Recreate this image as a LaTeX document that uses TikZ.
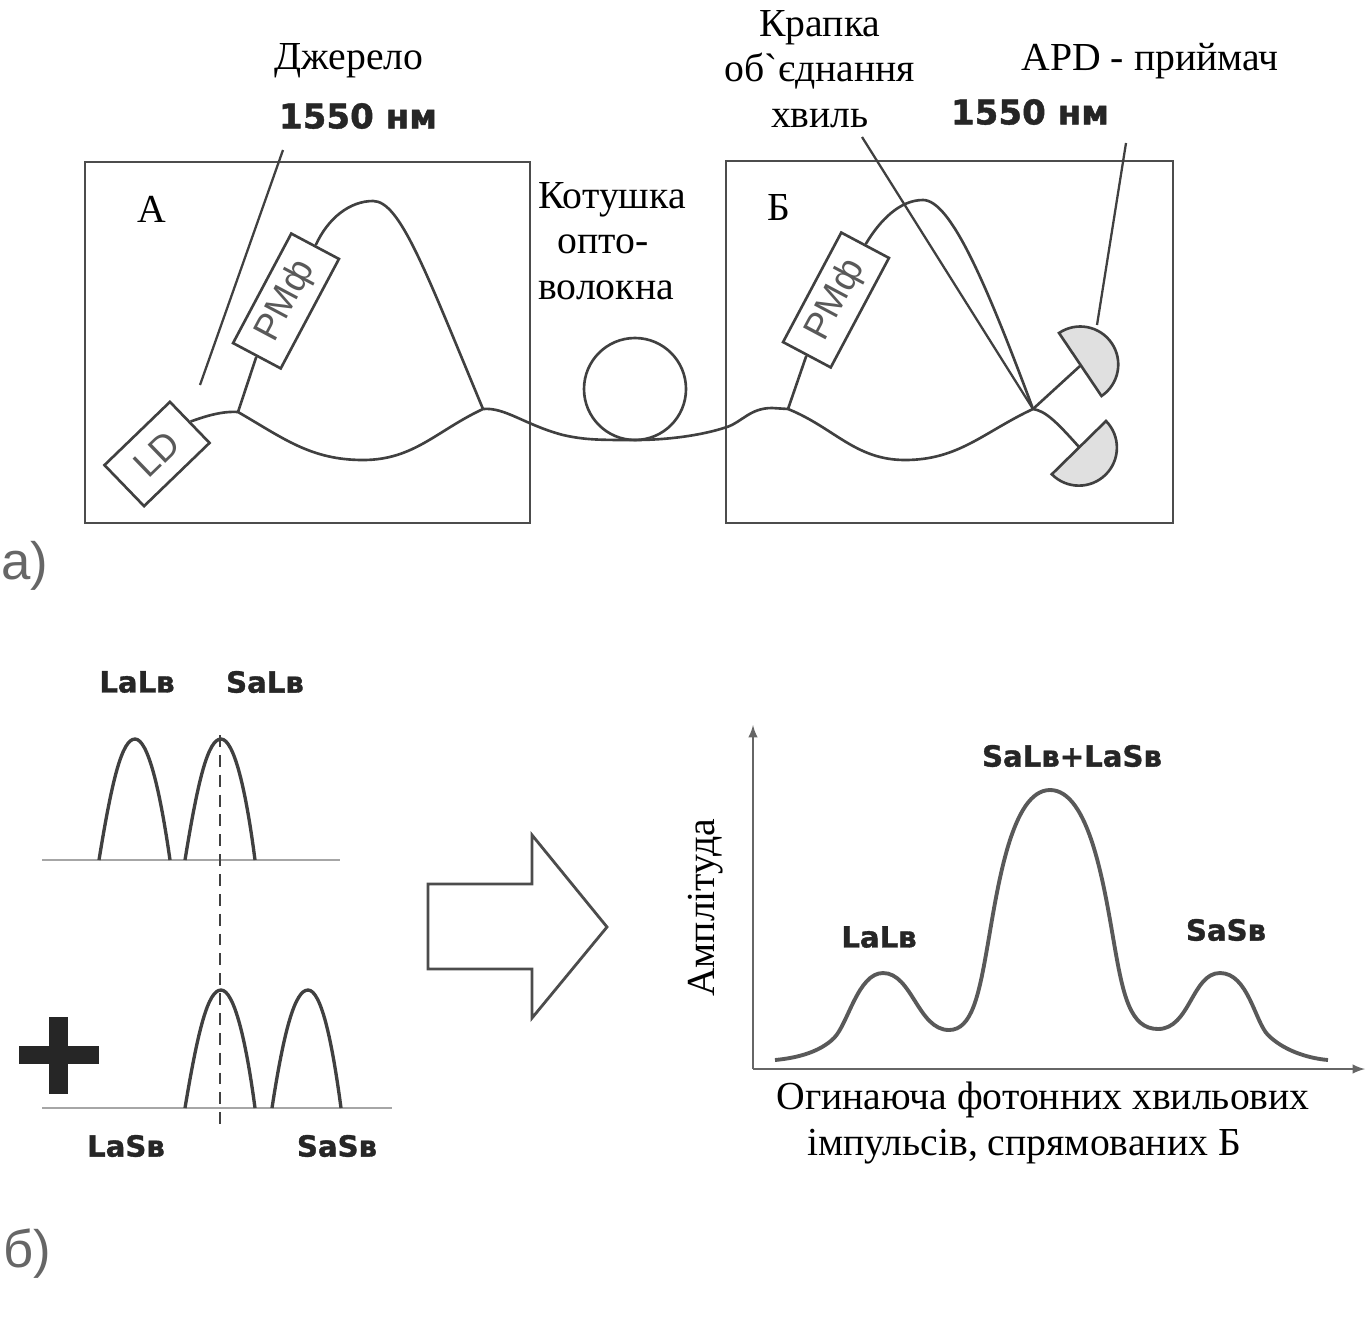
\documentclass[tikz,border=0pt]{standalone}
\usepackage{fontspec}
\setmainfont{Liberation Serif}[Ligatures=TeXOff]
\setsansfont{Liberation Sans}
\newfontfamily\boldlabel[FakeBold=1.2]{DejaVu Sans Bold}
\newcommand{\bigserif}{\fontsize{22.6}{26}\selectfont}
\newcommand{\boldsmall}{\fontsize{16.6}{18}\boldlabel}
\newcommand{\boldbig}{\fontsize{19.4}{22}\boldlabel}
\colorlet{inkline}{black!75}
\tikzset{
  fiber/.style={draw=inkline,line width=1.5pt},
  leader/.style={draw=inkline,line width=1.3pt},
  devbox/.style={draw=inkline,line width=1.5pt,fill=white,inner sep=0pt,font=\sffamily\fontsize{21}{24}\selectfont,text=black!65},
  frame/.style={draw=black!70,line width=1.6pt},
  detector/.style={draw=inkline,line width=1.5pt,fill=black!12},
  pulse/.style={draw=black!75,line width=1.9pt},
  baseline/.style={draw=black!35,line width=1pt},
  axis/.style={->,black!60,line width=1.4pt},
  caption/.style={font=\bigserif,inner sep=0pt},
  tag/.style={font=\boldsmall,text=black!85,inner sep=0pt},
  wave/.style={font=\boldbig,text=black!85,inner sep=0pt},
  partmark/.style={font=\sffamily\fontsize{30}{36}\selectfont,text=black!60,inner sep=0pt},
}
\begin{document}
\begin{tikzpicture}[>=latex,x=0.02cm,y=0.02cm]
  \useasboundingbox (0,0) rectangle (1372,-1342);

  % Frames
  \draw[frame] (85,-162) rectangle (530,-523);
  \draw[frame] (726,-161) rectangle (1173,-523);
  \node[caption] (nameA) at (152,-209) {А};
  \node[caption] (nameB) at (779,-207) {Б};

  % Splices
  \coordinate (spliceA) at (238,-412);
  \coordinate (spliceB) at (483,-409);
  \coordinate (spliceC) at (788,-409);
  \coordinate (spliceD) at (1033,-409);
  \coordinate (troughA) at (363,-460);
  \coordinate (troughB) at (905,-460);
  \coordinate (peakA) at (373,-201);
  \coordinate (peakB) at (923,-200);
  \coordinate (coilfoot) at (635,-440);

  % Devices
  \node[devbox,rotate=44,minimum width=91*0.02cm,minimum height=57*0.02cm] (ld) at (157,-454) {LD};
  \node[devbox,rotate=62,minimum width=124*0.02cm,minimum height=54*0.02cm] (pmfA) at (286,-301) {РМф};
  \node[devbox,rotate=62,minimum width=124*0.02cm,minimum height=54*0.02cm] (pmfB) at (836,-300) {РМф};

  % Fibre, lower path
  \draw[fiber] (ld.east) .. controls (206,-416) and (222,-411) .. (spliceA)
    to[out=-30,in=180] (troughA) to[out=0,in=205] (spliceB)
    .. controls (505,-407) and (525,-425) .. (563,-435)
    .. controls (585,-440) and (600,-440) .. (coilfoot)
    .. controls (665,-440) and (700,-436) .. (727,-427)
    .. controls (742,-422) and (750,-408) .. (772,-408) -- (spliceC)
    to[out=-22,in=180] (troughB) to[out=0,in=205] (spliceD);

  % Fibre, upper path
  \draw[fiber] (spliceA) -- (pmfA.west);
  \draw[fiber] (pmfA.east) .. controls (328,-218) and (350,-201) .. (peakA)
    .. controls (400,-201) and (425,-270) .. (spliceB);
  \draw[fiber] (spliceC) -- (pmfB.west);
  \draw[fiber] (pmfB.east) .. controls (880,-220) and (900,-200) .. (peakB)
    .. controls (950,-200) and (985,-280) .. (spliceD);

  % Coil
  \node[circle,draw=inkline,line width=1.5pt,minimum size=102*0.02cm,inner sep=0pt] (coil) at (635,-389) {};
  \node[caption,align=left,anchor=west] (coiltext) at (538,-241) {Котушка\\\hspace*{11pt}опто-\\волокна};

  % Detectors
  \coordinate (detA) at (1080,-366);
  \coordinate (detB) at (1079,-447);
  \draw[fiber] (spliceD) -- (detA);
  \draw[fiber] (spliceD) .. controls (1045,-411) and (1055,-420) .. (detB);
  \draw[detector] (1059,-333) arc (124:-56:38) -- cycle;
  \draw[detector] (1106,-421) arc (44.5:-135.5:38) -- cycle;

  % Leader lines
  \coordinate (srcend) at (283,-150);
  \coordinate (srcfoot) at (200,-385);
  \draw[leader] (srcend) -- (srcfoot);
  \coordinate (joinend) at (862,-137);
  \draw[leader] (joinend) -- (spliceD);
  \coordinate (apdend) at (1126,-143);
  \coordinate (apdfoot) at (1097,-325);
  \draw[leader] (apdend) -- (apdfoot);

  % Top labels
  \node[caption] (source) at (349,-61) {Джерело};
  \node[wave] (waveA) at (358,-116) {1550 нм};
  \node[caption,align=center] (joint) at (820,-69) {Крапка\\об`єднання\\хвиль};
  \node[caption] (apd) at (1150,-61) {APD - приймач};
  \node[wave] (waveB) at (1030,-112) {1550 нм};
  \node[partmark] (parta) at (25,-566) {а)};

  % Upper pulses
  \draw[baseline] (42,-860) -- (340,-860);
  \draw[pulse] (99,-860) .. controls (112,-780) and (122,-739) .. (135,-739) .. controls (148,-739) and (160,-790) .. (170,-860);
  \draw[pulse] (185,-860) .. controls (198,-780) and (208,-739) .. (221,-739) .. controls (234,-739) and (246,-790) .. (255,-860);
  \node[tag] (lala) at (137,-682) {LaLв};
  \node[tag] (sala) at (265,-682) {SaLв};

  % Lower pulses
  \draw[baseline] (42,-1108) -- (392,-1108);
  \draw[pulse] (185,-1108) .. controls (198,-1030) and (208,-990) .. (221,-990) .. controls (234,-990) and (246,-1040) .. (255,-1108);
  \draw[pulse] (272,-1108) .. controls (284,-1030) and (295,-990) .. (308,-990) .. controls (321,-990) and (332,-1040) .. (341,-1108);
  \node[tag] (lasb) at (126,-1146) {LaSв};
  \node[tag] (sasb) at (337,-1146) {SaSв};
  \draw[black!75,line width=1.5pt,dash pattern=on 6.8pt off 4.5pt] (220,-735) -- (220,-1125);

  % Plus
  \fill[black!85] (49,-1017) rectangle (68,-1094);
  \fill[black!85] (19,-1046) rectangle (99,-1064);

  % Big arrow
  \draw[black!70,line width=1.6pt] (428,-884) -- (532,-884) -- (532,-835) -- (607,-927) -- (532,-1018) -- (532,-969) -- (428,-969) -- cycle;

  % Axes
  \coordinate (origin) at (753,-1069);
  \coordinate (ytip) at (753,-725);
  \coordinate (xtip) at (1365,-1069);
  \draw[axis] (origin) -- (ytip);
  \draw[axis] (origin) -- (xtip);
  \node[caption,rotate=90] (ampl) at (706,-908) {Амплітуда};

  % Envelope
  \draw[black!65,line width=2.2pt] (775,-1060) .. controls (797,-1058) and (820,-1052) .. (834,-1038)
    .. controls (848,-1024) and (858,-973) .. (883,-973)
    .. controls (912,-973) and (918,-1030) .. (949,-1030)
    .. controls (972,-1030) and (979,-995) .. (988,-943)
    .. controls (998,-885) and (1012,-790) .. (1050,-790)
    .. controls (1089,-790) and (1104,-885) .. (1114,-943)
    .. controls (1123,-995) and (1130,-1029) .. (1158,-1029)
    .. controls (1190,-1029) and (1192,-973) .. (1220,-973)
    .. controls (1248,-973) and (1255,-1022) .. (1268,-1035)
    .. controls (1282,-1049) and (1305,-1058) .. (1328,-1060);
  \node[tag] (sumtag) at (1072,-756) {SaLв+LaSв};
  \node[tag] (lefttag) at (879,-937) {LaLв};
  \node[tag] (righttag) at (1226,-930) {SaSв};
  \node[caption,align=left,anchor=west] (envtext) at (776,-1123) {Огинаюча фотонних хвильових\\\hspace*{17.6pt}імпульсів, спрямованих Б};
  \node[partmark] (partb) at (27,-1254) {б)};
\end{tikzpicture}
\end{document}
